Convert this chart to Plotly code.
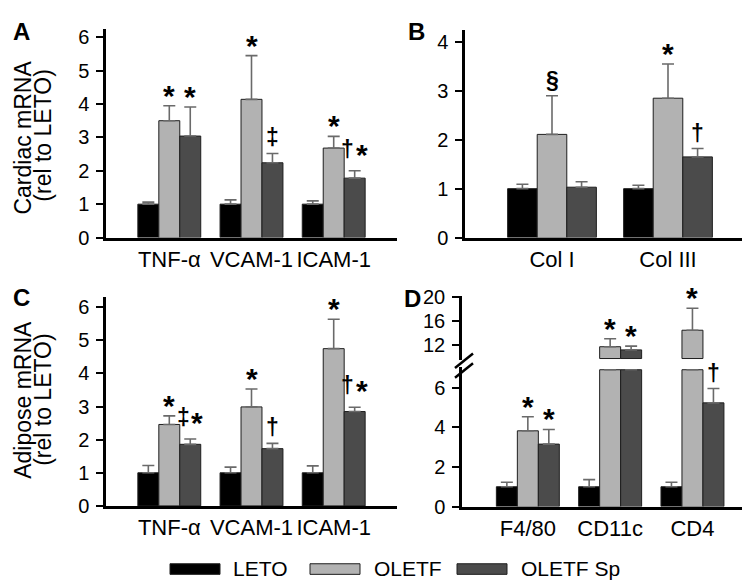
import numpy as np
import plotly.graph_objects as go

FONT = "Liberation Sans, Arial, sans-serif"

series = ["LETO", "OLETF", "OLETF Sp"]
colors = ["#000000", "#b2b2b2", "#4b4b4b"]

# Panel A - cardiac mRNA (rel to LETO)
cats_A = ["TNF-α", "VCAM-1", "ICAM-1"]
leto_A = [1.0, 1.0, 1.0]
leto_A_sem = [0.06, 0.13, 0.10]
oletf_A = [3.50, 4.14, 2.68]
oletf_A_sem = [0.45, 1.31, 0.35]
sp_A = [3.04, 2.24, 1.78]
sp_A_sem = [0.87, 0.28, 0.22]
sig_leto_A = ["", "", ""]
sig_oletf_A = ["*", "*", "*"]
sig_sp_A = ["*", "‡", "†*"]

# Panel B - cardiac collagen mRNA
cats_B = ["Col I", "Col III"]
leto_B = [1.0, 1.0]
leto_B_sem = [0.09, 0.07]
oletf_B = [2.11, 2.85]
oletf_B_sem = [0.79, 0.70]
sp_B = [1.03, 1.65]
sp_B_sem = [0.11, 0.17]
sig_leto_B = ["", ""]
sig_oletf_B = ["§", "*"]
sig_sp_B = ["", "†"]

# Panel C - adipose mRNA (rel to LETO)
cats_C = ["TNF-α", "VCAM-1", "ICAM-1"]
leto_C = [1.0, 1.0, 1.0]
leto_C_sem = [0.22, 0.17, 0.21]
oletf_C = [2.46, 2.99, 4.75]
oletf_C_sem = [0.26, 0.54, 0.89]
sp_C = [1.86, 1.73, 2.85]
sp_C_sem = [0.16, 0.16, 0.13]
sig_leto_C = ["", "", ""]
sig_oletf_C = ["*", "*", "*"]
sig_sp_C = ["‡*", "†", "†*"]

# Panel D - adipose immune cell markers (broken axis)
cats_D = ["F4/80", "CD11c", "CD4"]
leto_D = [1.0, 1.0, 1.0]
leto_D_sem = [0.23, 0.36, 0.23]
oletf_D = [3.82, 11.73, 14.5]
oletf_D_sem = [0.71, 1.34, 3.70]
sp_D = [3.15, 11.2, 5.23]
sp_D_sem = [0.74, 0.64, 0.72]
sig_leto_D = ["", "", ""]
sig_oletf_D = ["*", "*", "*"]
sig_sp_D = ["*", "*", "†"]

BW = 0.255
LO_CUT = 6.9     # top of lower segment in D
HI_BASE = 9.75   # bottom of upper segment in D

fig = go.Figure()
annotations = []
ERR_COLOR = "#6a6a6a"
LINE_COLOR = "#1e1e1e"


def err(arr):
    return dict(type="data", array=arr, arrayminus=[0] * len(arr), symmetric=False,
                color=ERR_COLOR, thickness=1.6, width=6)


def sym_ann(xref, yref, x, y, ch, xshift, combo):
    if ch == "*":
        size, ysh = 30, (-2 if combo else -8)
    else:
        size, ysh = 23, (7 if combo else 1)
    annotations.append(dict(x=x, y=y, xref=xref, yref=yref, text=f"<b>{ch}</b>",
                            showarrow=False, yanchor="bottom", xanchor="center",
                            font=dict(family=FONT, size=size, color="black"),
                            yshift=ysh, xshift=xshift))


def add_sig(xref, yref, xs, tops, texts):
    for x, t, s in zip(xs, tops, texts):
        if not s:
            continue
        if len(s) == 1:
            sym_ann(xref, yref, x, t, s, 0, False)
        else:
            sym_ann(xref, yref, x, t, s[0], -7, True)
            sym_ann(xref, yref, x, t, s[1], 7, True)


def panel(xa, ya, cats, means, sems, sigs):
    n = len(cats)
    xs = np.arange(n)
    for i in range(3):
        m = np.array(means[i]); s = np.array(sems[i])
        fig.add_trace(go.Bar(x=xs, y=m, width=BW, offset=(i - 1.5) * BW,
                             marker=dict(color=colors[i], line=dict(color=LINE_COLOR, width=1)),
                             error_y=err(list(s)), name=series[i], showlegend=False,
                             xaxis=xa, yaxis=ya))
        add_sig(xa, ya, xs + (i - 1) * BW, m + s, sigs[i])


panel("x", "y", cats_A, [leto_A, oletf_A, sp_A], [leto_A_sem, oletf_A_sem, sp_A_sem],
      [sig_leto_A, sig_oletf_A, sig_sp_A])
panel("x2", "y2", cats_B, [leto_B, oletf_B, sp_B], [leto_B_sem, oletf_B_sem, sp_B_sem],
      [sig_leto_B, sig_oletf_B, sig_sp_B])
panel("x3", "y3", cats_C, [leto_C, oletf_C, sp_C], [leto_C_sem, oletf_C_sem, sp_C_sem],
      [sig_leto_C, sig_oletf_C, sig_sp_C])

# Panel D: lower and upper segments
xsD = np.arange(len(cats_D))
for i, (m, s, sig) in enumerate(zip([leto_D, oletf_D, sp_D], [leto_D_sem, oletf_D_sem, sp_D_sem],
                                     [sig_leto_D, sig_oletf_D, sig_sp_D])):
    m = np.array(m); s = np.array(s)
    low_y = np.minimum(m, LO_CUT)
    low_err = [e if v <= LO_CUT else None for v, e in zip(m, s)]
    fig.add_trace(go.Bar(x=xsD, y=low_y, width=BW, offset=(i - 1.5) * BW,
                         marker=dict(color=colors[i], line=dict(color=LINE_COLOR, width=1)),
                         error_y=err(low_err), name=series[i], showlegend=False,
                         xaxis="x4", yaxis="y4"))
    up_y = [v - HI_BASE if v > HI_BASE else None for v in m]
    up_err = [e if v > HI_BASE else None for v, e in zip(m, s)]
    fig.add_trace(go.Bar(x=xsD, y=up_y, base=HI_BASE, width=BW, offset=(i - 1.5) * BW,
                         marker=dict(color=colors[i], line=dict(color=LINE_COLOR, width=1)),
                         error_y=err(up_err), name=series[i], showlegend=False,
                         xaxis="x4", yaxis="y5"))
    low_sig = [t if v <= LO_CUT else "" for v, t in zip(m, sig)]
    up_sig = [t if v > HI_BASE else "" for v, t in zip(m, sig)]
    add_sig("x4", "y4", xsD + (i - 1) * BW, m + s, low_sig)
    add_sig("x4", "y5", xsD + (i - 1) * BW, m + s, up_sig)

W, H = 750, 587


def px(v):
    return v / W


def py(v):
    return 1 - v / H


yax = dict(showline=True, linewidth=2.5, linecolor="black", ticks="outside", ticklen=7,
           tickwidth=2, tickcolor="black", showgrid=False, zeroline=False,
           tickfont=dict(family=FONT, size=20, color="black"), ticklabelstandoff=3)


def xax(cats, rng, dom):
    return dict(showline=True, linewidth=2.5, linecolor="black", ticks="", showgrid=False,
                zeroline=False, tickvals=list(range(len(cats))), ticktext=cats, range=rng,
                domain=dom, tickangle=0, tickfont=dict(family=FONT, size=22, color="black"))


layout = dict(
    width=W, height=H, margin=dict(l=0, r=0, t=0, b=0), plot_bgcolor="white",
    paper_bgcolor="white", barmode="overlay", showlegend=False,
    xaxis=dict(xax(cats_A, [-0.77, 2.77], [px(98), px(389)]), anchor="y"),
    yaxis=dict(yax, range=[0, 6.25], dtick=1, domain=[py(227.7), py(11.3)], anchor="x"),
    xaxis2=dict(xax(cats_B, [-0.75, 1.75], [px(457), px(747)]), anchor="y2"),
    yaxis2=dict(yax, range=[0, 4.25], dtick=1, domain=[py(227.7), py(12.2)], anchor="x2"),
    xaxis3=dict(xax(cats_C, [-0.77, 2.77], [px(98), px(389)]), anchor="y3"),
    yaxis3=dict(yax, range=[0, 6.3], dtick=1, domain=[py(506), py(289.7)], anchor="x3"),
    xaxis4=dict(xax(cats_D, [-0.8, 2.76], [px(454), px(747)]), anchor="y4"),
    yaxis4=dict(yax, range=[0, 7.05], tickvals=[0, 2, 4, 6], domain=[py(506.7), py(361.7)],
                anchor="x4"),
    yaxis5=dict(yax, range=[9.5, 20.2], tickvals=[12, 16, 20], domain=[py(354.7), py(288.6)],
                anchor="x4"),
)

# panel letters
for t, x, y in [("A", 3, 14), ("B", 398, 14), ("C", 3, 290), ("D", 394, 291)]:
    annotations.append(dict(x=px(x), y=py(y), xref="paper", yref="paper", text=f"<b>{t}</b>",
                            showarrow=False, xanchor="left", yanchor="middle",
                            font=dict(family=FONT, size=24, color="black")))

# y-axis titles
for line, x, y in [("Cardiac mRNA", 15, 124), ("(rel to LETO)", 35, 122),
                   ("Adipose mRNA", 15, 396), ("(rel to LETO)", 35, 396)]:
    annotations.append(dict(x=px(x), y=py(y), xref="paper", yref="paper", text=line,
                            textangle=-90, showarrow=False, xanchor="center", yanchor="middle",
                            font=dict(family=FONT, size=23, color="black")))

# legend (manual swatches)
shapes = []
for name, col, x0, tx in zip(series, colors, [162, 302, 449], [223, 364, 511]):
    shapes.append(dict(type="rect", xref="paper", yref="paper", x0=px(x0), x1=px(x0 + 50),
                       y0=py(577), y1=py(566), fillcolor=col,
                       line=dict(color=LINE_COLOR, width=1)))
    annotations.append(dict(x=px(tx), y=py(571), xref="paper", yref="paper", text=name,
                            showarrow=False, xanchor="left", yanchor="middle",
                            font=dict(family=FONT, size=21, color="black")))

# axis break marks in D
for y0 in [363, 373]:
    shapes.append(dict(type="line", xref="paper", yref="paper", x0=px(447), y0=py(y0),
                       x1=px(465), y1=py(y0 - 15), line=dict(color="black", width=2.5)))

layout["annotations"] = annotations
layout["shapes"] = shapes
fig.update_layout(**layout)
fig.write_html("out.html")
